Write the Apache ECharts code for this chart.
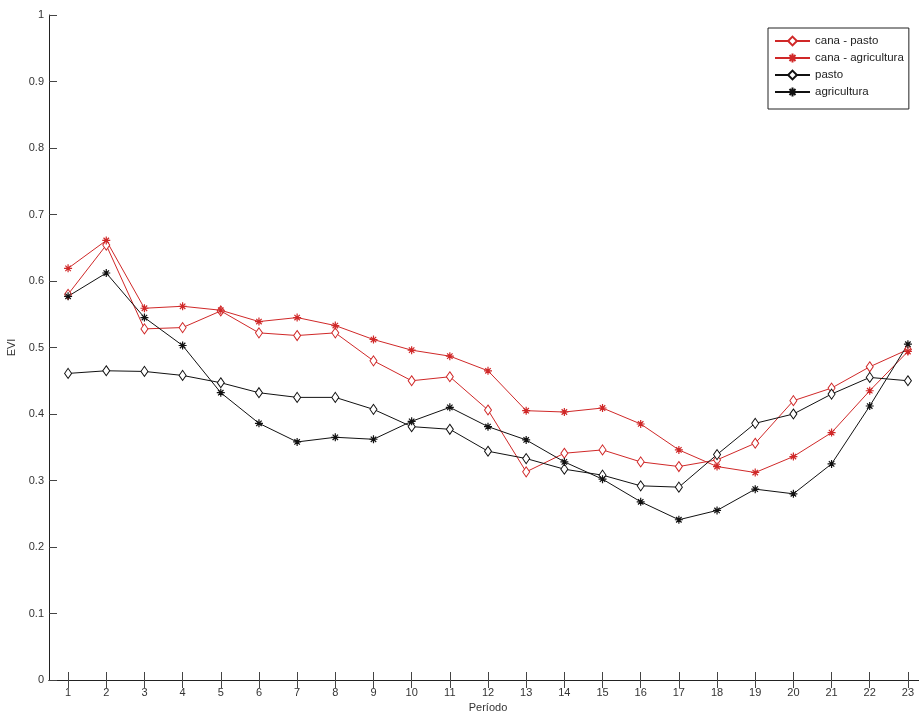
<!DOCTYPE html>
<html>
<head>
<meta charset="utf-8">
<script src="https://cdn.jsdelivr.net/npm/echarts@6/dist/echarts.min.js"></script>
<style>
html,body{margin:0;padding:0;background:#fff;}
#chart{width:919px;height:711px;}
</style>
</head>
<body>
<div id="chart"></div>
<script>
const periods = ['1','2','3','4','5','6','7','8','9','10','11','12','13','14','15','16','17','18','19','20','21','22','23'];
const canaPasto = [0.580,0.654,0.528,0.530,0.555,0.522,0.518,0.522,0.480,0.450,0.456,0.406,0.313,0.341,0.346,0.328,0.321,0.331,0.356,0.420,0.439,0.471,0.497];
const canaAgricultura = [0.619,0.661,0.559,0.562,0.556,0.539,0.545,0.533,0.512,0.496,0.487,0.465,0.405,0.403,0.409,0.385,0.346,0.321,0.312,0.336,0.372,0.435,0.494];
const pasto = [0.461,0.465,0.464,0.458,0.447,0.432,0.425,0.425,0.407,0.381,0.377,0.344,0.333,0.317,0.308,0.292,0.290,0.339,0.386,0.400,0.430,0.455,0.450];
const agricultura = [0.577,0.612,0.545,0.503,0.432,0.386,0.358,0.365,0.362,0.389,0.410,0.381,0.361,0.328,0.302,0.268,0.241,0.255,0.287,0.280,0.325,0.412,0.505];
const yTicks = {min: 0, max: 1, step: 0.1};

const RED = '#d02828';
const BLACK = '#111111';
const FONT = 'Liberation Sans';
const STAR = 'path://M0,5L10,5M5,0L5,10M1.6,1.6L8.4,8.4M8.4,1.6L1.6,8.4';

function series(name, data, color, marker) {
  const isStar = marker === 'star';
  return {
    name: name,
    type: 'line',
    data: data,
    xAxisIndex: 0,
    yAxisIndex: 0,
    symbol: isStar ? STAR : 'diamond',
    symbolSize: isStar ? 8 : [7, 10],
    showAllSymbol: true,
    lineStyle: {color: color, width: 1},
    itemStyle: isStar ? {color: color, borderColor: color, borderWidth: 1.2} : {color: '#fff', borderColor: color, borderWidth: 1},
    emphasis: {disabled: true},
    animation: false
  };
}

const chart = echarts.init(document.getElementById('chart'), null, {renderer: 'canvas'});
const axisLine = {show: true, lineStyle: {color: '#222', width: 1}};
const tickStyle = {show: true, inside: true, length: 8, lineStyle: {color: '#444', width: 1}};
chart.setOption({
  backgroundColor: '#fff',
  animation: false,
  grid: {left: 49, right: -8, top: 15, bottom: 31, containLabel: false, outerBoundsMode: 'none'},
  legend: {
    orient: 'vertical',
    left: 768,
    top: 28,
    backgroundColor: '#fff',
    borderColor: '#222',
    borderWidth: 1,
    borderRadius: 0,
    padding: [7, 5, 11, 6],
    itemGap: 5,
    itemWidth: 35,
    itemHeight: 11,
    textStyle: {fontFamily: FONT, fontSize: 11.5, color: '#222'},
    data: ['cana - pasto', 'cana - agricultura', 'pasto', 'agricultura']
  },
  xAxis: [
    {
      type: 'category',
      data: periods,
      boundaryGap: true,
      position: 'bottom',
      name: 'Período',
      nameLocation: 'middle',
      nameGap: 20,
      nameTextStyle: {fontFamily: FONT, fontSize: 11, color: '#333'},
      axisLine: axisLine,
      axisTick: Object.assign({alignWithLabel: true, interval: 0}, tickStyle),
      axisLabel: {interval: 0, margin: 7, fontFamily: FONT, fontSize: 11, color: '#333'},
      splitLine: {show: false}
    },
    {
      type: 'category',
      data: periods,
      boundaryGap: true,
      position: 'top',
      axisLine: axisLine,
      axisTick: Object.assign({alignWithLabel: true, interval: 0}, tickStyle),
      axisLabel: {show: false},
      splitLine: {show: false}
    }
  ],
  yAxis: [
    {
      type: 'value',
      min: yTicks.min,
      max: yTicks.max,
      interval: yTicks.step,
      position: 'left',
      name: 'EVI',
      nameLocation: 'middle',
      nameGap: 25,
      nameRotate: 90,
      nameTextStyle: {fontFamily: FONT, fontSize: 11, color: '#333'},
      axisLine: axisLine,
      axisTick: tickStyle,
      axisLabel: {margin: 5, fontFamily: FONT, fontSize: 11, color: '#333'},
      splitLine: {show: false}
    },
    {
      type: 'value',
      min: yTicks.min,
      max: yTicks.max,
      interval: yTicks.step,
      position: 'right',
      axisLine: axisLine,
      axisTick: tickStyle,
      axisLabel: {show: false},
      splitLine: {show: false}
    }
  ],
  series: [
    series('cana - pasto', canaPasto, RED, 'diamond'),
    series('cana - agricultura', canaAgricultura, RED, 'star'),
    series('pasto', pasto, BLACK, 'diamond'),
    series('agricultura', agricultura, BLACK, 'star')
  ]
});
</script>
</body>
</html>
